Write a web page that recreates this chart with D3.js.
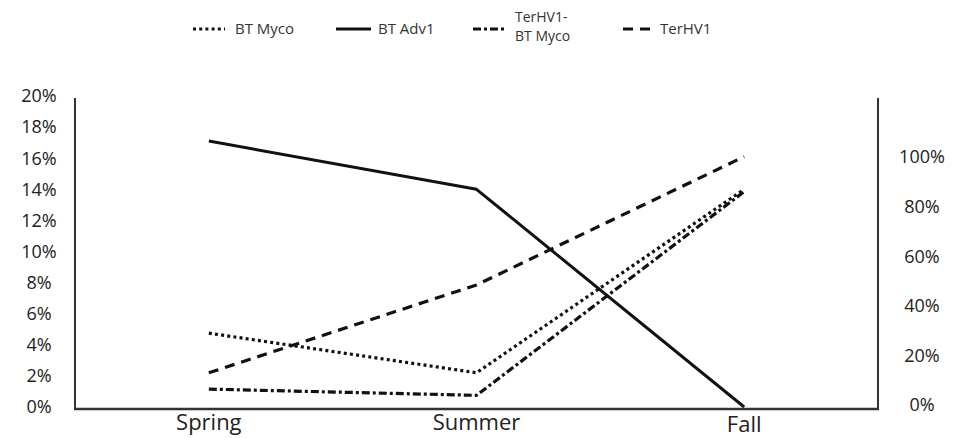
<!DOCTYPE html>
<html>
<head>
<meta charset="utf-8">
<script src="https://cdn.jsdelivr.net/npm/d3@7/dist/d3.min.js"></script>
<style>
  html, body { margin: 0; padding: 0; background: #fff; }
  svg { display: block; font-family: "Open Sans", "Noto Sans", sans-serif; }
</style>
</head>
<body>
<svg id="chart" width="961" height="438"></svg>
<script>
// ---- data ----
const seasons = ["Spring", "Summer", "Fall"];
const btMyco = [4.75, 2.2, 14.0];
const btAdv1 = [17.1, 14.0, 0.0];
const terHV1BtMyco = [1.15, 0.75, 13.85];
const terHV1 = [2.2, 7.85, 16.1];
const leftTicks = [0, 2, 4, 6, 8, 10, 12, 14, 16, 18, 20];
const rightTicks = [0, 0.2, 0.4, 0.6, 0.8, 1.0];
const seriesNames = ["BT Myco", "BT Adv1", "TerHV1-\nBT Myco", "TerHV1"];

(function () {
// ---- layout ----
const svg = d3.select("#chart");
const pLeft = 75, pRight = 878, pTop = 98, pBottom = 409;

const x = d3.scalePoint().domain(seasons).range([pLeft, pRight]).padding(0.5);
const y = d3.scaleLinear().domain([0, 20]).range([407, 96]);
const yR = d3.scaleLinear().domain([0, 1]).range([405, 157]);

const styles = [
  { dash: "3,3.2", width: 3.2 },
  { dash: null, width: 3 },
  { dash: "8,3,3,3", width: 3.2 },
  { dash: "10,7", width: 3.2 }
];
const allSeries = [btMyco, btAdv1, terHV1BtMyco, terHV1];

// axis frame lines
svg.append("line").attr("x1", pLeft).attr("x2", pLeft).attr("y1", pTop).attr("y2", pBottom)
  .attr("stroke", "#333").attr("stroke-width", 2);
svg.append("line").attr("x1", pRight).attr("x2", pRight).attr("y1", pTop).attr("y2", pBottom)
  .attr("stroke", "#333").attr("stroke-width", 2);

// left tick labels
svg.append("g").selectAll("text").data(leftTicks).join("text")
  .attr("x", 39).attr("y", d => y(d)).attr("dy", "0.35em")
  .attr("text-anchor", "middle").attr("font-size", 18).attr("fill", "#222")
  .text(d => d + "%");

// right tick labels
svg.append("g").selectAll("text").data(rightTicks).join("text")
  .attr("x", 922).attr("y", d => yR(d)).attr("dy", "0.35em")
  .attr("text-anchor", "middle").attr("font-size", 18).attr("fill", "#222")
  .text(d => d3.format(".0%")(d));

// series lines
const line = d3.line().x((d, i) => x(seasons[i])).y(d => y(d));
allSeries.forEach((s, k) => {
  const st = styles[k];
  const p = svg.append("path").datum(s).attr("d", line)
    .attr("fill", "none").attr("stroke", "#111")
    .attr("stroke-width", st.width).attr("stroke-linejoin", "round");
  if (st.dash) p.attr("stroke-dasharray", st.dash);
});

// bottom axis line (drawn over)
svg.append("line").attr("x1", pLeft - 1).attr("x2", pRight + 1).attr("y1", pBottom).attr("y2", pBottom)
  .attr("stroke", "#333").attr("stroke-width", 2.5);

// category labels
svg.append("g").selectAll("text").data(seasons).join("text")
  .attr("x", d => x(d)).attr("y", (d, i) => i === 2 ? 432 : 430)
  .attr("text-anchor", "middle").attr("font-size", 22).attr("fill", "#222")
  .text(d => d);

// legend
const legendX = [193, 336, 473, 623];
const sampleW = [32, 35, 32, 27];
const lg = svg.append("g");
seriesNames.forEach((name, k) => {
  const st = styles[k];
  const l = lg.append("line").attr("x1", legendX[k]).attr("x2", legendX[k] + sampleW[k])
    .attr("y1", 29).attr("y2", 29).attr("stroke", "#111").attr("stroke-width", st.width);
  if (st.dash) l.attr("stroke-dasharray", st.dash);
  const lines = name.split("\n");
  const tx = legendX[k] + sampleW[k] + (k === 1 ? 7 : 10);
  if (lines.length === 1) {
    lg.append("text").attr("x", tx).attr("y", 34)
      .attr("font-size", 15).attr("fill", "#333").text(name);
  } else {
    lines.forEach((ln, j) => {
      lg.append("text").attr("x", tx).attr("y", 22 + j * 19)
        .attr("font-size", 14).attr("fill", "#333").text(ln);
    });
  }
});
})();
</script>
</body>
</html>
